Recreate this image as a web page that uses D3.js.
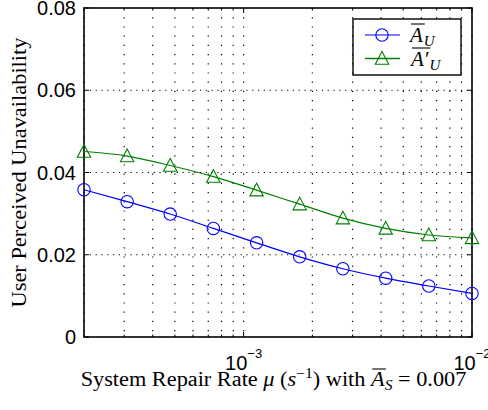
<!DOCTYPE html>
<html>
<head>
<meta charset="utf-8">
<script src="https://cdn.jsdelivr.net/npm/d3@7/dist/d3.min.js"></script>
<style>
  body { margin: 0; background: #fff; }
  svg { display: block; }
</style>
</head>
<body>
<script>
// data
var muValues = [2.0e-4, 3.09e-4, 4.77e-4, 7.37e-4, 1.14e-3, 1.76e-3, 2.72e-3, 4.19e-3, 6.47e-3, 1.0e-2];
var auValues = [0.0358, 0.0329, 0.0299, 0.0264, 0.0229, 0.0195, 0.0166, 0.0143, 0.0124, 0.0106];
var auPrimeValues = [0.0451, 0.0440, 0.0417, 0.0390, 0.0357, 0.0323, 0.0289, 0.0264, 0.0248, 0.0241];
var yTicks = [0, 0.02, 0.04, 0.06, 0.08];
var xMajorTicks = [1e-3, 1e-2];
var xMinorTicks = [2e-4, 3e-4, 4e-4, 5e-4, 6e-4, 7e-4, 8e-4, 9e-4,
                   2e-3, 3e-3, 4e-3, 5e-3, 6e-3, 7e-3, 8e-3, 9e-3];
var xTickExp = ["-3", "-2"];

var width = 488, height = 410;
var margin = { top: 8, right: 16, bottom: 73, left: 84 };
var w = width - margin.left - margin.right;
var h = height - margin.top - margin.bottom;

var sans = "'Liberation Sans', Arial, sans-serif";
var serif = "'Liberation Serif', 'Times New Roman', serif";

var svg = d3.select("body").append("svg")
    .attr("width", width).attr("height", height);
var g = svg.append("g")
    .attr("transform", "translate(" + margin.left + "," + margin.top + ")");

var x = d3.scaleLog().domain([2e-4, 1e-2]).range([0, w]);
var y = d3.scaleLinear().domain([0, 0.08]).range([h, 0]);

//grid
var gridAll = xMinorTicks.concat(xMajorTicks);
g.append("g").selectAll("line").data(gridAll).enter().append("line")
    .attr("x1", function(d) { return x(d); }).attr("x2", function(d) { return x(d); })
    .attr("y1", 0).attr("y2", h)
    .attr("stroke", "#000").attr("stroke-width", 1.2)
    .attr("stroke-dasharray", "1.2,8");
g.append("g").selectAll("line").data(yTicks.slice(1, -1)).enter().append("line")
    .attr("x1", 0).attr("x2", w)
    .attr("y1", function(d) { return y(d); }).attr("y2", function(d) { return y(d); })
    .attr("stroke", "#000").attr("stroke-width", 1.2)
    .attr("stroke-dasharray", "1.2,4.6");

// ticks, inward on all four sides
var tickG = g.append("g").attr("stroke", "#000").attr("stroke-width", 1);
yTicks.forEach(function(d) {
    tickG.append("line").attr("x1", 0).attr("x2", 5).attr("y1", y(d)).attr("y2", y(d));
    tickG.append("line").attr("x1", w).attr("x2", w - 5).attr("y1", y(d)).attr("y2", y(d));
});
xMajorTicks.forEach(function(d) {
    tickG.append("line").attr("x1", x(d)).attr("x2", x(d)).attr("y1", h).attr("y2", h - 5);
    tickG.append("line").attr("x1", x(d)).attr("x2", x(d)).attr("y1", 0).attr("y2", 5);
});
xMinorTicks.forEach(function(d) {
    tickG.append("line").attr("x1", x(d)).attr("x2", x(d)).attr("y1", h).attr("y2", h - 2.5);
    tickG.append("line").attr("x1", x(d)).attr("x2", x(d)).attr("y1", 0).attr("y2", 2.5);
});

// box
g.append("rect").attr("x", 0).attr("y", 0).attr("width", w).attr("height", h)
    .attr("fill", "none").attr("stroke", "#000").attr("stroke-width", 1.6);

// tick labels
g.append("g").selectAll("text").data(yTicks).enter().append("text")
    .attr("x", -8).attr("y", function(d) { return y(d) + 7; })
    .attr("text-anchor", "end")
    .attr("font-family", sans)
    .attr("font-size", 20)
    .text(function(d) { return d === 0 ? "0" : d3.format(".2f")(d); });

xMajorTicks.forEach(function(d, i) {
    var t = g.append("text")
        .attr("x", x(d)).attr("y", h + 33)
        .attr("text-anchor", "middle")
        .attr("font-family", sans)
        .attr("font-size", 20);
    t.append("tspan").text("10");
    t.append("tspan").attr("font-size", 13).attr("dy", -12).text("\u2212" + xTickExp[i].slice(1));
});

// series
var line = d3.line()
    .x(function(d) { return x(d[0]); })
    .y(function(d) { return y(d[1]); })
    .curve(d3.curveMonotoneX);

var blue = "#0000ff", green = "#008000";
var dataA = muValues.map(function(m, i) { return [m, auValues[i]]; });
var dataB = muValues.map(function(m, i) { return [m, auPrimeValues[i]]; });

g.append("path").datum(dataA).attr("d", line)
    .attr("fill", "none").attr("stroke", blue).attr("stroke-width", 1.2);
g.append("path").datum(dataB).attr("d", line)
    .attr("fill", "none").attr("stroke", green).attr("stroke-width", 1.2);

var triPath = "M0,-7L6.7,5.7L-6.7,5.7Z";

g.append("g").selectAll("circle").data(dataA).enter().append("circle")
    .attr("cx", function(d) { return x(d[0]); })
    .attr("cy", function(d) { return y(d[1]); })
    .attr("r", 6.2)
    .attr("fill", "none").attr("stroke", blue).attr("stroke-width", 1.1);
g.append("g").selectAll("path").data(dataB).enter().append("path")
    .attr("d", triPath)
    .attr("transform", function(d) { return "translate(" + x(d[0]) + "," + y(d[1]) + ")"; })
    .attr("fill", "none").attr("stroke", green).attr("stroke-width", 1.1);

// legend
var lg = svg.append("g");
lg.append("rect").attr("x", 353).attr("y", 19).attr("width", 108).attr("height", 56)
    .attr("fill", "#fff").attr("stroke", "#000").attr("stroke-width", 1.4);

function mathLabel(parent, x0, yBase, main, sub) {
    var t = parent.append("text").attr("x", x0).attr("y", yBase)
        .attr("font-family", serif).attr("font-style", "italic").attr("font-size", 21);
    t.append("tspan").text(main);
    var mainWidth = t.node().getComputedTextLength();
    t.append("tspan").attr("font-size", 15).attr("dy", 4).attr("dx", 1).text(sub);
    parent.append("line")
        .attr("x1", x0 + 1).attr("x2", x0 + mainWidth + 2)
        .attr("y1", yBase - 18).attr("y2", yBase - 18)
        .attr("stroke", "#000").attr("stroke-width", 1.1);
}

lg.append("line").attr("x1", 365).attr("x2", 400).attr("y1", 35).attr("y2", 35)
    .attr("stroke", blue).attr("stroke-width", 1.2);
lg.append("circle").attr("cx", 382).attr("cy", 35).attr("r", 6.2)
    .attr("fill", "none").attr("stroke", blue).attr("stroke-width", 1.1);
mathLabel(lg, 410, 42, "A", "U");

lg.append("line").attr("x1", 365).attr("x2", 400).attr("y1", 58.5).attr("y2", 58.5)
    .attr("stroke", green).attr("stroke-width", 1.6);
lg.append("path").attr("d", triPath).attr("transform", "translate(382,58.5)")
    .attr("fill", "none").attr("stroke", green).attr("stroke-width", 1.1);
mathLabel(lg, 411, 66, "A\u2032", "U");

// axis labels (stretched to the span the reference shows)
svg.append("text")
    .attr("transform", "translate(26," + (margin.top + h / 2) + ")rotate(-90)")
    .attr("text-anchor", "middle")
    .attr("font-family", serif).attr("font-size", 20)
    .attr("textLength", 270).attr("lengthAdjust", "spacingAndGlyphs")
    .text("User Perceived Unavailability");

var xlG = svg.append("g");
var xl = xlG.append("text")
    .attr("x", 0).attr("y", 0)
    .attr("text-anchor", "middle")
    .attr("font-family", serif).attr("font-size", 20);
xl.append("tspan").text("System Repair Rate ");
xl.append("tspan").attr("font-style", "italic").text("\u03bc");
xl.append("tspan").text(" (");
xl.append("tspan").attr("font-style", "italic").text("s");
xl.append("tspan").attr("font-size", 14).attr("dy", -8).text("\u22121");
xl.append("tspan").attr("dy", 8).text(") with ");
xl.append("tspan").attr("font-style", "italic").text("A");
xl.append("tspan").attr("font-style", "italic").attr("font-size", 14).attr("dy", 4).text("S");
xl.append("tspan").attr("dy", -4).text(" = 0.007");

// overline over A in x label
var full = xl.node();
var aIdx = full.textContent.indexOf(") with ") + 7;
var ext = full.getExtentOfChar(aIdx);
xlG.append("line")
    .attr("x1", ext.x + 1).attr("x2", ext.x + ext.width + 1)
    .attr("y1", -17).attr("y2", -17)
    .attr("stroke", "#000").attr("stroke-width", 1.1);
var bb = full.getBBox();
var sx = 386 / bb.width;
xlG.attr("transform", "translate(273.5,386)scale(" + sx + ",1)");
</script>
</body>
</html>
